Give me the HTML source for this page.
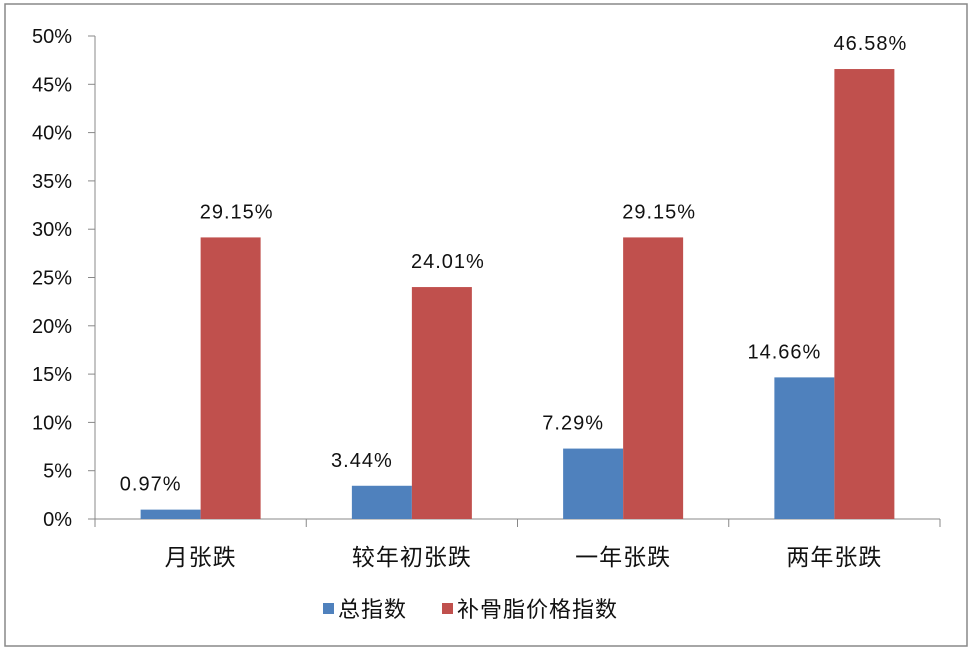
<!DOCTYPE html>
<html><head><meta charset="utf-8"><style>
body{margin:0;background:#fff;}
svg{display:block;font-family:"Liberation Sans","Noto Sans CJK SC",sans-serif;}
</style></head><body>
<svg id="c" width="972" height="652">
<rect x="5" y="4" width="962" height="642" fill="#fff" stroke="#888" stroke-width="1.5"/>
<g id="g"></g>
</svg>
<script>
const categories=["月张跌","较年初张跌","一年张跌","两年张跌"];
const totalIndex=[0.97,3.44,7.29,14.66];
const bonePriceIndex=[29.15,24.01,29.15,46.58];
const yTicks=[0,5,10,15,20,25,30,35,40,45,50];
const seriesNames=["总指数","补骨脂价格指数"];
const colors=["#4f81bd","#c0504d"];
const NS="http://www.w3.org/2000/svg";
const g=document.getElementById('g');
const x0=95,x1=940,y0=519,yTop=36,bw=60;
const catW=(x1-x0)/categories.length;
const y=v=>y0-(v/50)*(y0-yTop);
const cx=i=>x0+catW*(i+0.5);
function el(t,a,txt){const e=document.createElementNS(NS,t);for(const k in a)e.setAttribute(k,a[k]);if(txt!==undefined)e.textContent=txt;g.appendChild(e);return e;}
yTicks.forEach(t=>{
const l=el('line',{x1:88,x2:x0,y1:y(t),y2:y(t),stroke:'#888'});


const tx=el('text',{x:72,y:y(t)+7,'text-anchor':'end','font-size':20,fill:'#111'},t+'%');


});
const ya=el('line',{x1:x0,x2:x0,y1:yTop,y2:y0,stroke:'#888'});


const xa=el('line',{x1:x0,x2:x1,y1:y0,y2:y0,stroke:'#888'});


for(let i=0;i<=categories.length;i++){
const t=el('line',{x1:x0+catW*i,x2:x0+catW*i,y1:y0,y2:y0+8,stroke:'#888'});


}
categories.forEach((c,i)=>{
const t=el('text',{x:cx(i),y:565,'text-anchor':'middle','font-size':23,fill:'#111','letter-spacing':'1'},c);


[totalIndex,bonePriceIndex].forEach((s,k)=>{
const bx=cx(i)-bw+k*bw;
const r=el('rect',{x:bx,y:y(s[i]),width:bw,height:y0-y(s[i]),fill:colors[k]});


const lx=bx+bw/2+(k?6:-20);
const lt=el('text',{x:lx,y:y(s[i])-19,'text-anchor':'middle','font-size':20,fill:'#111','letter-spacing':'1'},s[i].toFixed(2)+'%');


});
});
const lx=[323,442];
seriesNames.forEach((n,k)=>{
const r=el('rect',{x:lx[k],y:603,width:11,height:11,fill:colors[k]});


const t=el('text',{x:lx[k]+15,y:617,'font-size':22,fill:'#111','letter-spacing':'1'},n);


});
</script>
</body></html>
